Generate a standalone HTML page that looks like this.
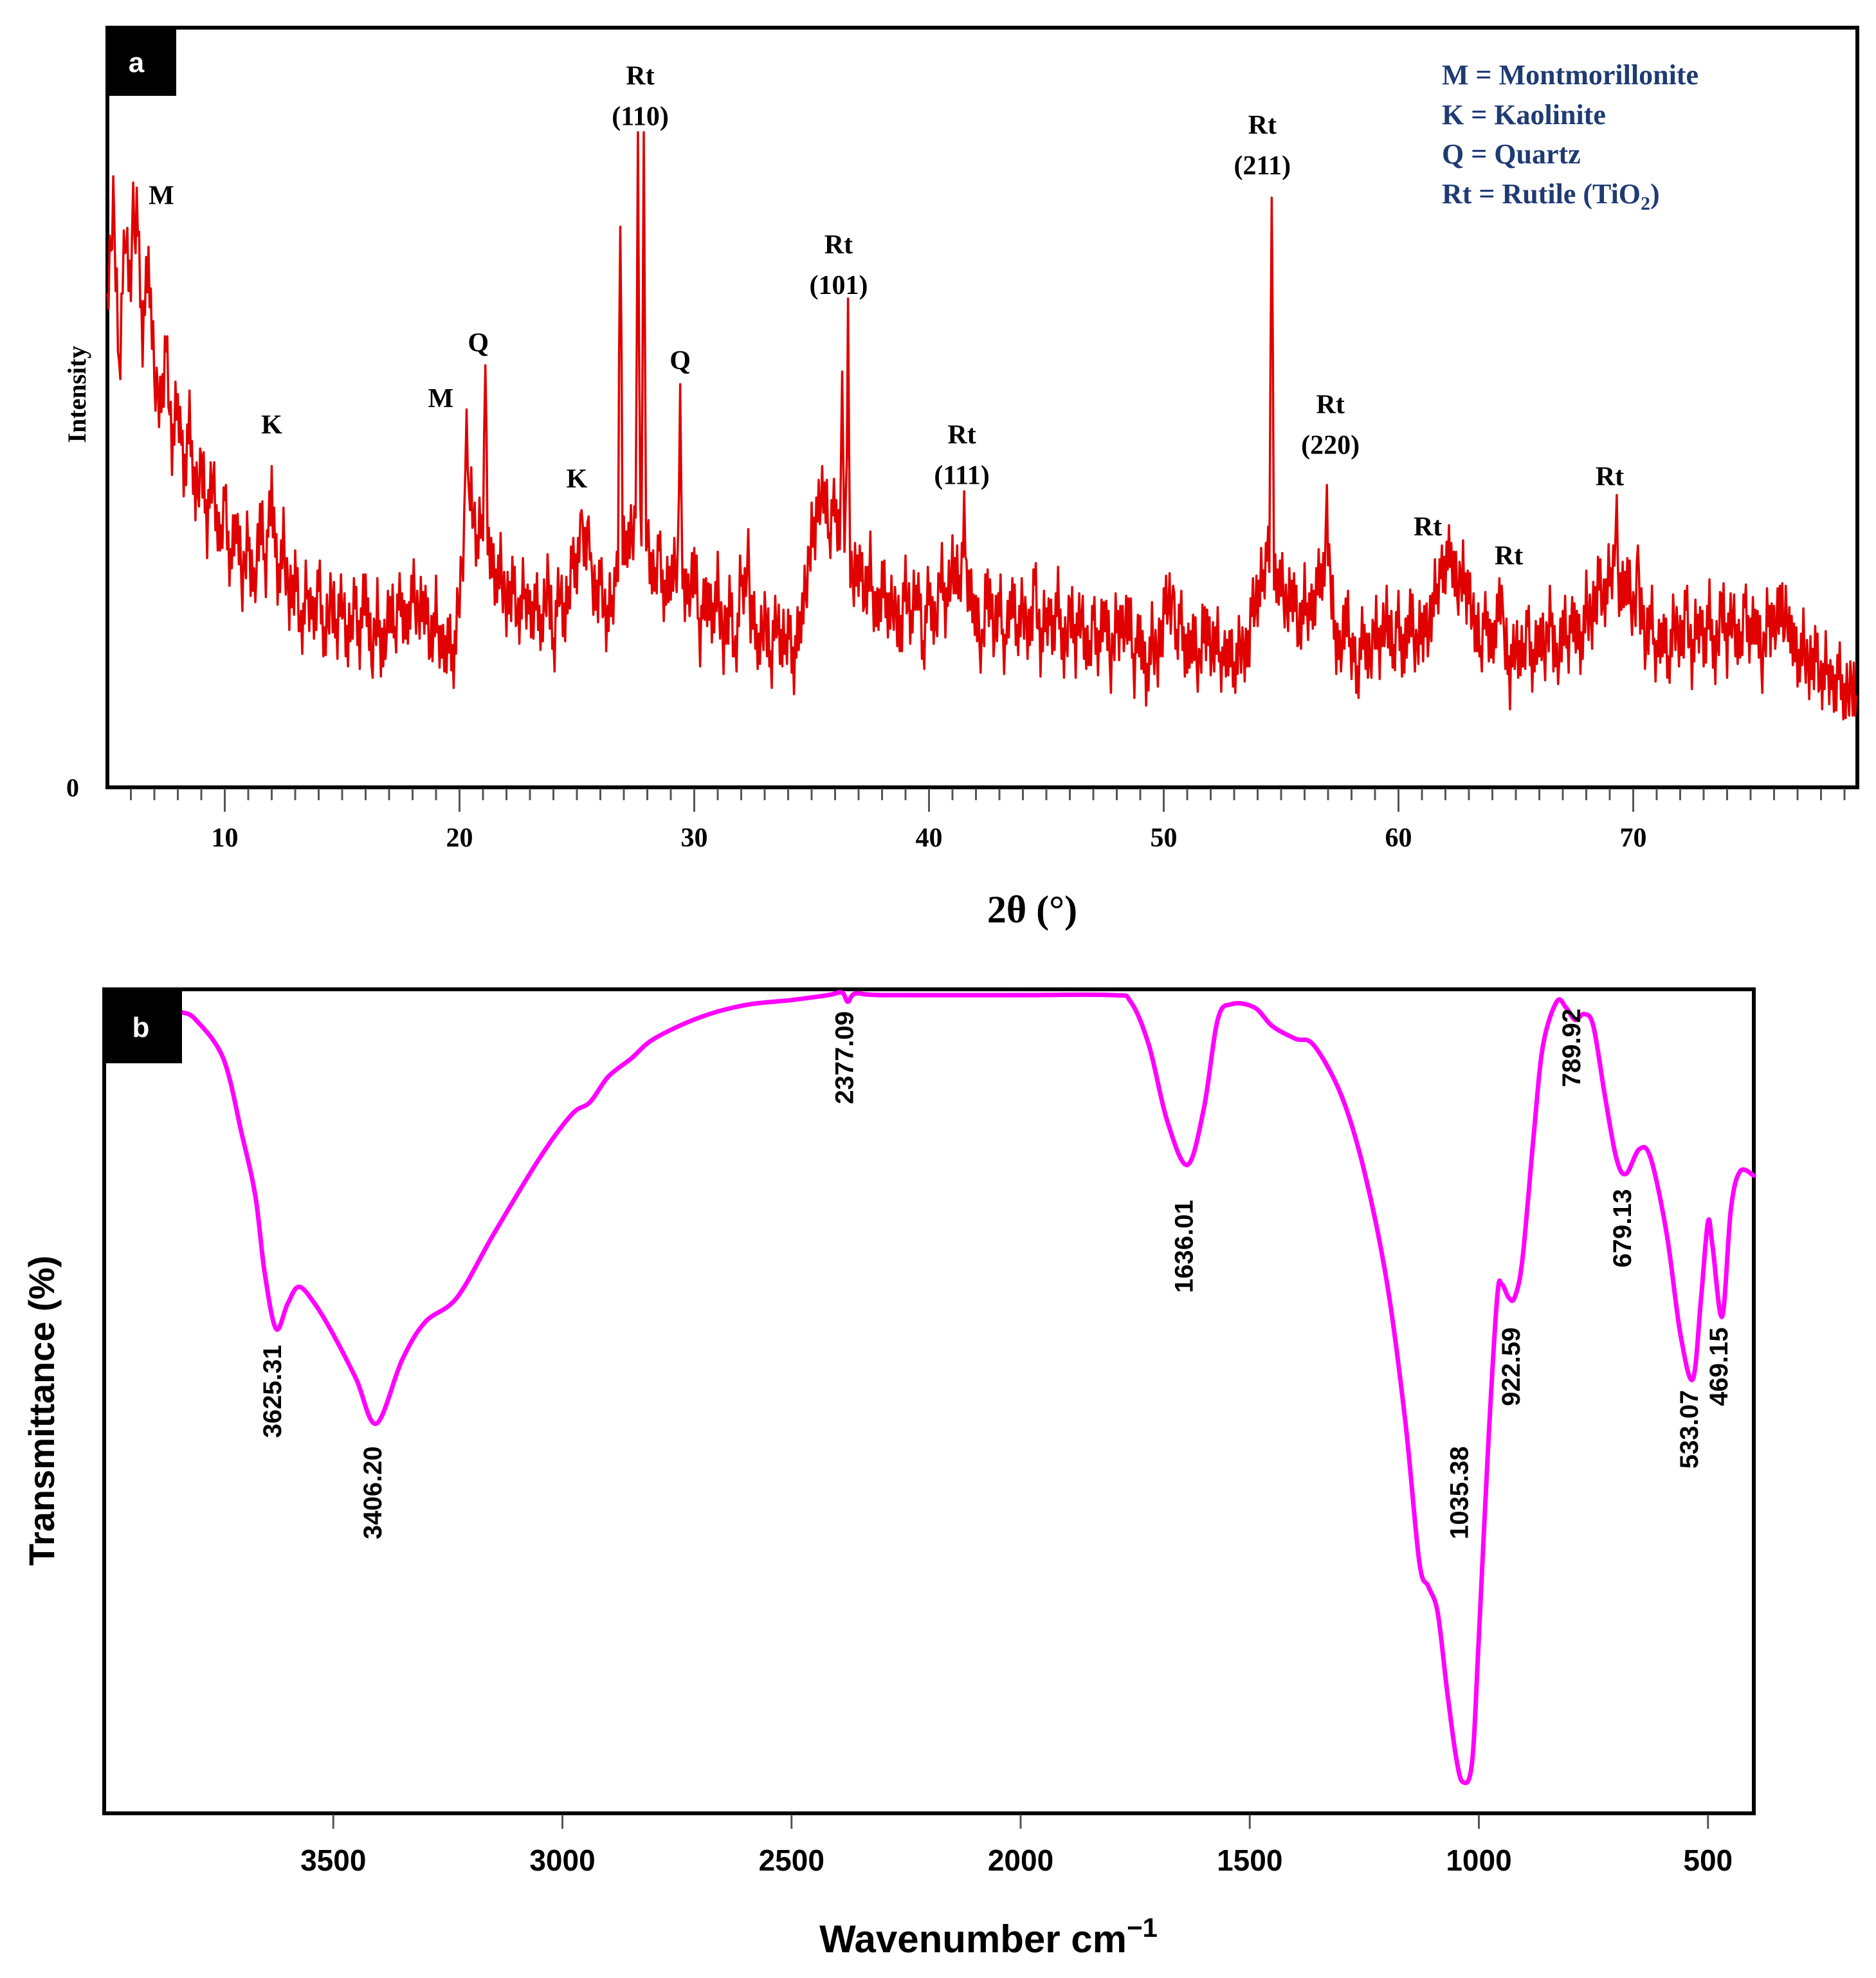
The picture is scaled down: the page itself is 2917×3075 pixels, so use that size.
<!DOCTYPE html>
<html><head><meta charset="utf-8">
<style>
html,body{margin:0;padding:0;background:#fff;}
svg{display:block;}
.serif{font-family:"Liberation Serif",serif;font-weight:bold;}
.sans{font-family:"Liberation Sans",sans-serif;font-weight:bold;}
</style></head>
<body>
<svg id="fig" width="2917" height="3075" viewBox="0 0 2917 3075" xmlns="http://www.w3.org/2000/svg">
  <g id="panelA">
    <rect x="167" y="43" width="2721" height="1181" fill="none" stroke="#000" stroke-width="6"/>
    <g id="xrdTicks"></g>
    <path id="xrdLine" fill="none" stroke="#e00000" stroke-width="3.5" stroke-linejoin="round"/>
    <rect x="167" y="43" width="107" height="106" fill="#000"/>
    <text x="212" y="112" fill="#fff" class="sans" font-size="44" text-anchor="middle">a</text>
    <text x="113" y="1238" class="serif" font-size="40" text-anchor="middle">0</text>
    <text transform="translate(133,613) rotate(-90)" class="serif" font-size="40" text-anchor="middle">Intensity</text>
    <text x="1605" y="1434" class="serif" font-size="60" text-anchor="middle">2θ (°)</text>
    <g class="serif" font-size="44" fill="#1f3b73">
      <text x="2242" y="131">M = Montmorillonite</text>
      <text x="2242" y="193">K  = Kaolinite</text>
      <text x="2242" y="254">Q  = Quartz</text>
      <text x="2242" y="316">Rt = Rutile (TiO<tspan font-size="30" dy="10">2</tspan><tspan dy="-10">)</tspan></text>
    </g>
    <g id="xrdLabels" class="serif" font-size="42" text-anchor="middle"></g>
  </g>

  <g id="panelB">
    <rect x="162" y="1538" width="2565" height="1281" fill="none" stroke="#000" stroke-width="6"/>
    <g id="ftirTicks"></g>
    <path id="ftirLine" fill="none" stroke="#ff00ff" stroke-width="7" stroke-linejoin="round" stroke-linecap="round"/>
    <rect x="159" y="1538" width="124" height="115" fill="#000"/>
    <text x="219" y="1612" fill="#fff" class="sans" font-size="44" text-anchor="middle">b</text>
    <text transform="translate(84,2193) rotate(-90)" class="sans" font-size="56" text-anchor="middle">Transmittance (%)</text>
    <text x="1537" y="3035" class="sans" font-size="60" text-anchor="middle">Wavenumber cm<tspan font-size="42" dy="-24">−1</tspan></text>
    <g id="ftirLabels" class="sans" font-size="40" text-anchor="middle"></g>
  </g>
</svg>
<script>
// ---------- XRD data ----------
const xrdStart = 5.0;
const xrdStep = 0.25;
const xrdBaseline = [
 380,470,330,440,400,460,360,420,330,
 300,350,270,310,250,290,230,260,
 210,250,190,230,175,215,165,200,
 150,215,175,240,160,200,145,170,
 120,160,130,165,115,155,125,150,
 110,150,120,160,105,140,100,145,
 125,155,120,165,135,150,110,140,
 105,120,100,160,200,230,190,220,
 200,160,180,140,165,130,160,135,
 150,125,170,110,160,130,175,180,
 200,185,150,165,130,150,170,190,
 200,210,220,200,160,190,150,170,
 180,170,145,180,120,160,130,165,
 110,150,100,170,150,135,110,140,
 100,135,110,125,100,130,160,200,
 215,240,200,230,190,220,160,180,
 150,175,130,165,140,150,120,160,
 130,165,110,160,125,175,140,180,
 160,190,150,140,110,165,120,150,
 105,160,120,150,115,165,110,140,
 125,150,105,145,115,140,100,135,
 110,145,100,135,120,140,95,130,
 80,125,100,140,150,120,135,100,
 125,95,135,105,120,95,115,90,
 120,100,140,150,170,190,160,170,
 140,160,120,150,135,160,170,190,
 130,100,140,110,90,125,100,130,
 110,140,105,135,100,145,110,130,
 120,150,165,180,185,160,170,150,
 130,110,140,105,150,120,90,115,
 100,130,95,125,110,140,90,130,
 115,140,105,150,130,165,145,170,
 180,150,170,140,160,110,140,100,
 130,95,140,110,145,100,135,115,
 140,100,150,115,140,105,145,120,
 135,100,140,120,150,110,130,95,
 120,90,110,80,100,75,95,70,
 85,65];
// fine-scale detector noise texture (hand-typed offsets, applied every 0.05°)
const xrdJitter = [12,-18,22,-8,-25,15,4,-20,26,-12,8,-28,18,-4,24,-16,-6,20,-22,10,-14,28,-10,2,-24,16,-2,21,-19,6,-26,14,-9,25,-15,9,-21];
const xrdPeakPos    = [6.1,12.0,20.3,21.1,25.2,25.5,26.85,27.6,27.85,29.4,32.3,36.3,36.55,41.5,50.4,54.6,56.95,62.2,64.4,69.3,70.2,76.5];
const xrdPeakHeight = [480,255,300,335,220,215,445,520,520,320,205,330,388,235,160,468,240,175,160,232,192,160];
const xrdPeakWidth  = [0.1,0.1,0.12,0.12,0.15,0.12,0.1,0.08,0.08,0.09,0.1,0.1,0.08,0.1,0.08,0.09,0.09,0.2,0.08,0.08,0.07,0.07];
const xrdTickLabels = ["10","20","30","40","50","60","70"];
const xrdLabelText = [["M"],["K"],["M"],["Q"],["K"],["Rt","(110)"],["Q"],["Rt","(101)"],["Rt","(111)"],["Rt","(211)"],["Rt","(220)"],["Rt"],["Rt"],["Rt"]];
const xrdLabelPos  = [7.3,12.0,19.2,20.8,25.0,27.7,29.4,36.15,41.4,54.2,57.1,61.25,64.7,69.0];
const xrdLabelInt  = [470,288,309,353,245,565,339,431,280,526,304,207,184,247];

// ---------- FTIR data ----------
const ftirWavenumber = [3829,3800,3740,3700,3670,3650,3625,3600,3575,3540,3500,3450,3406,3350,3300,3230,3150,3050,2980,2940,2900,2850,2800,2700,2600,2500,2420,2390,2377,2360,2300,2000,1800,1760,1720,1680,1636,1600,1570,1540,1490,1450,1400,1360,1300,1250,1200,1160,1130,1110,1090,1070,1050,1035,1015,1000,980,960,950,935,922,905,880,860,830,810,790,770,750,725,700,679,650,625,590,560,533,515,500,490,469,450,430,400];
const ftirTransmittance = [97.2,96.3,91.6,82.5,74.9,65.7,58.8,61.8,63.9,61.8,58.1,52.7,47.3,55.0,59.6,62.6,70.3,79.5,84.8,86.3,89.4,91.6,94.0,96.6,98.1,98.7,99.3,99.6,98.5,99.5,99.3,99.3,99.3,98.5,93.2,84.0,78.7,85.6,96.3,98.2,97.8,95.5,94.0,93.2,87.1,77.9,64.2,47.3,30.5,27.5,24.4,15.2,6.9,3.8,6.1,21.4,44.3,62.6,64.2,62.6,62.6,67.2,82.5,93.2,98.5,97.8,96.3,97.0,95.5,87.1,79.5,77.6,80.6,79.5,70.3,58.1,52.7,62.6,71.8,68.8,60.3,73.3,77.9,77.4];
const ftirTickLabels = ["3500","3000","2500","2000","1500","1000","500"];
const ftirPeakLabels = ["3625.31","3406.20","2377.09","1636.01","1035.38","922.59","789.92","679.13","533.07","469.15"];
const ftirLabelWn = [3625,3406,2377,1636,1035,922,790,679,533,469];
const ftirLabelT  = [51.2,38.9,91.7,68.8,38.9,54.2,92.9,71.0,46.6,54.2];

const NS = "http://www.w3.org/2000/svg";
const xrdX = v => 167 + (v - 5) * 36.5;
const xrdY = v => 1224 - v * 1.9585;
const ftX = v => 162 + (4000 - v) * 0.7125;
const ftY = v => 2819 - v * 12.81;

function mk(tag, attrs, parent) {
  const el = document.createElementNS(NS, tag);
  for (const k in attrs) el.setAttribute(k, attrs[k]);
  parent.appendChild(el);
  return el;
}

// XRD ticks
const xt = document.getElementById('xrdTicks');
for (let v = 6; v <= 79; v++) {
  const major = v % 10 === 0;
  const t = mk('line', {x1: xrdX(v), x2: xrdX(v), y1: 1226, y2: major ? 1262 : 1244, stroke: '#555', 'stroke-width': 3}, xt);
  
  
}
xrdTickLabels.forEach(s => {
  const t = mk('text', {x: xrdX(+s), y: 1316, 'text-anchor': 'middle', 'font-size': 42, class: 'serif'}, xt);
  t.textContent = s;
  
  
});

// XRD line
function baseAt(x) {
  const f = (x - xrdStart) / xrdStep;
  const i = Math.floor(f);
  if (i < 0) return xrdBaseline[0];
  if (i >= xrdBaseline.length - 1) return xrdBaseline[xrdBaseline.length - 1];
  const r = f - i;
  return xrdBaseline[i] * (1 - r) + xrdBaseline[i + 1] * r;
}
let d = '';
const xEnd = xrdStart + xrdStep * (xrdBaseline.length - 1);
let n = 0;
for (let x = xrdStart; x <= xEnd + 1e-9; x += 0.05, n++) {
  let v = baseAt(x) + xrdJitter[n % xrdJitter.length];
  for (let k = 0; k < xrdPeakPos.length; k++) {
    const g = xrdPeakHeight[k] * Math.exp(-Math.pow((x - xrdPeakPos[k]) / xrdPeakWidth[k], 2));
    if (g > v) v = g;
  }
  d += (d ? 'L' : 'M') + xrdX(x).toFixed(1) + ' ' + xrdY(v).toFixed(1);
}
document.getElementById('xrdLine').setAttribute('d', d);

// XRD labels
const xl = document.getElementById('xrdLabels');
xrdLabelText.forEach((lines, i) => {
  lines.forEach((s, j) => {
    const t = mk('text', {x: xrdX(xrdLabelPos[i]), y: xrdY(xrdLabelInt[i]) + 14 + j * 63}, xl);
    t.textContent = s;
    
    
  });
});

// FTIR ticks
const ft = document.getElementById('ftirTicks');
ftirTickLabels.forEach(s => {
  const v = +s;
  const t = mk('line', {x1: ftX(v), x2: ftX(v), y1: 2821, y2: 2843, stroke: '#555', 'stroke-width': 3}, ft);
  
  
  const l = mk('text', {x: ftX(v), y: 2908, 'text-anchor': 'middle', 'font-size': 46, class: 'sans'}, ft);
  l.textContent = s;
  
  
});

// FTIR line (Catmull-Rom)
const pts = ftirWavenumber.map((w, i) => [ftX(w), ftY(ftirTransmittance[i])]);
let fd = 'M' + pts[0][0].toFixed(1) + ' ' + pts[0][1].toFixed(1);
for (let i = 0; i < pts.length - 1; i++) {
  const p0 = pts[Math.max(0, i - 1)], p1 = pts[i], p2 = pts[i + 1], p3 = pts[Math.min(pts.length - 1, i + 2)];
  const c1 = [p1[0] + (p2[0] - p0[0]) / 6, p1[1] + (p2[1] - p0[1]) / 6];
  const c2 = [p2[0] - (p3[0] - p1[0]) / 6, p2[1] - (p3[1] - p1[1]) / 6];
  fd += 'C' + c1[0].toFixed(1) + ' ' + c1[1].toFixed(1) + ' ' + c2[0].toFixed(1) + ' ' + c2[1].toFixed(1) + ' ' + p2[0].toFixed(1) + ' ' + p2[1].toFixed(1);
}
document.getElementById('ftirLine').setAttribute('d', fd);

// FTIR labels
const fl = document.getElementById('ftirLabels');
ftirPeakLabels.forEach((s, i) => {
  const x = ftX(ftirLabelWn[i]) + 8, y = ftY(ftirLabelT[i]);
  const t = mk('text', {transform: 'translate(' + x.toFixed(1) + ',' + y.toFixed(1) + ') rotate(-90)'}, fl);
  t.textContent = s;
  
  
});
</script>
</body></html>
